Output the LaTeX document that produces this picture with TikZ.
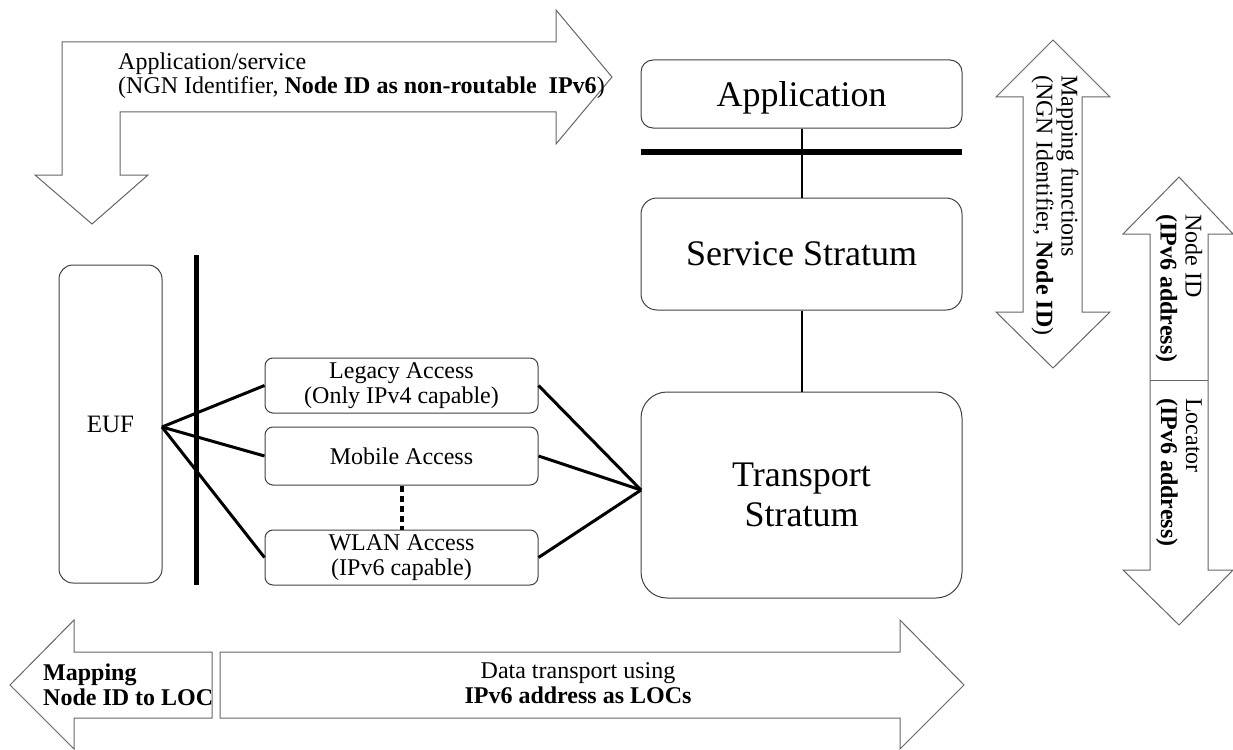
\documentclass[tikz,border=0pt]{standalone}
\usepackage{fontspec}
\setmainfont{Liberation Serif}
\usetikzlibrary{positioning,calc}
\newcommand\stratafont{\fontsize{36}{40}\selectfont}
\newcommand\accessfont{\fontsize{24}{25}\selectfont}
\newcommand\notefont{\fontsize{24}{25}\selectfont}
\tikzset{
  box/.style={draw=black!75, line width=1pt, rounded corners=#1, inner sep=0pt, align=center},
  box/.default=8pt,
  fatarrow/.style={draw=black!60, line width=1pt, fill=white, line join=miter},
  link/.style={draw=black, line width=3pt},
  bar/.style={draw=black, line width=5pt}
}
\begin{document}
\begin{tikzpicture}[x=1pt,y=-1pt]
\useasboundingbox (0,0) rectangle (1233,749);

% big arrows
\draw[fatarrow] (62,175) -- (62,42) -- (556,42) -- (556,10) -- (612,77) -- (556,144)
  -- (556,112) -- (120,112) -- (120,175) -- (148,175) -- (92,224) -- (35,175) -- cycle;
\draw[fatarrow] (1053,40) -- (1110,97) -- (1082,97) -- (1082,312) -- (1110,312) -- (1053,368)
  -- (996,312) -- (1023,312) -- (1023,97) -- (996,97) -- cycle;
\draw[fatarrow] (1179,177) -- (1233,234) -- (1208,234) -- (1208,570) -- (1233,570) -- (1179,625)
  -- (1123,570) -- (1150,570) -- (1150,234) -- (1123,234) -- cycle;
\draw[fatarrow] (1150,380) -- (1208,380);
\draw[fatarrow] (10,685) -- (74,620) -- (74,652) -- (212,652) -- (212,718) -- (74,718) -- (74,749) -- cycle;
\draw[fatarrow] (220,652) -- (900,652) -- (900,620) -- (964,685) -- (900,749) -- (900,718) -- (220,718) -- cycle;

% arrow texts
\node[anchor=north west, align=left, font=\fontsize{24}{24}\selectfont, inner sep=0pt] (appsvc) at (118,53)
  {Application/service\\(NGN Identifier, \textbf{Node ID as non-routable \ IPv6})};
\node[anchor=west, align=left, font=\notefont, rotate=-90, inner sep=0pt] (mapfn) at (1055,75)
  {Mapping functions\\(NGN Identifier, \textbf{Node ID})};
\node[anchor=west, align=left, font=\notefont, rotate=-90, inner sep=0pt] (nodeid) at (1179,214)
  {Node ID\\\textbf{(IPv6 address)}};
\node[anchor=west, align=left, font=\notefont, rotate=-90, inner sep=0pt] (loc) at (1179,398)
  {Locator\\\textbf{(IPv6 address)}};
\node[anchor=west, align=left, font=\notefont\bfseries, inner sep=0pt] (mapping) at (43,685)
  {Mapping\\Node ID to LOC};
\node[align=center, font=\notefont, inner sep=0pt] (data) at (578,683)
  {Data transport using\\\textbf{IPv6 address as LOCs}};

% strata
\node[box=12pt, minimum width=321pt, minimum height=68pt, font=\stratafont, text depth=0pt] (app) at (801.5,94) {Application};
\node[box=16pt, minimum width=321pt, minimum height=112pt, font=\stratafont, text depth=0pt] (svc) at (801.5,254) {Service Stratum};
\node[box=26pt, minimum width=321pt, minimum height=206pt, font=\stratafont] (trans) at (801.5,495) {Transport\\Stratum};
\draw[line width=6pt] (app.south west) ++(0,23) coordinate (sep1) -- ++(321,0) coordinate (sep2);
\draw[line width=2pt] (app) -- (svc);
\draw[line width=2pt] (svc) -- (trans);

% end user side
\node[box=14pt, minimum width=103pt, minimum height=318pt, font=\fontsize{25}{28}\selectfont] (euf) at (110.5,424) {EUF};
\draw[bar] (196,255) coordinate (bar1) -- (196,585) coordinate (bar2);
\node[box=8pt, minimum width=273pt, minimum height=55pt, font=\accessfont] (legacy) at (401.5,385.5)
  {Legacy Access\\(Only IPv4 capable)};
\node[box=8pt, minimum width=273pt, minimum height=58pt, font=\accessfont] (mobile) at (401.5,456) {Mobile Access};
\node[box=8pt, minimum width=273pt, minimum height=55pt, font=\accessfont] (wlan) at (401.5,557.5)
  {WLAN Access\\(IPv6 capable)};
\draw[line width=4pt, dash pattern=on 6pt off 4pt] (mobile) -- (wlan);

\coordinate (eufhub) at (162,427);
\coordinate (transhub) at (641,490);
\draw[link] (eufhub) -- (legacy.west);
\draw[link] (eufhub) -- (mobile.west);
\draw[link] (eufhub) -- (wlan.west);
\draw[link] (legacy.east) -- (transhub);
\draw[link] (mobile.east) -- (transhub);
\draw[link] (wlan.east) -- (transhub);
\end{tikzpicture}
\end{document}
